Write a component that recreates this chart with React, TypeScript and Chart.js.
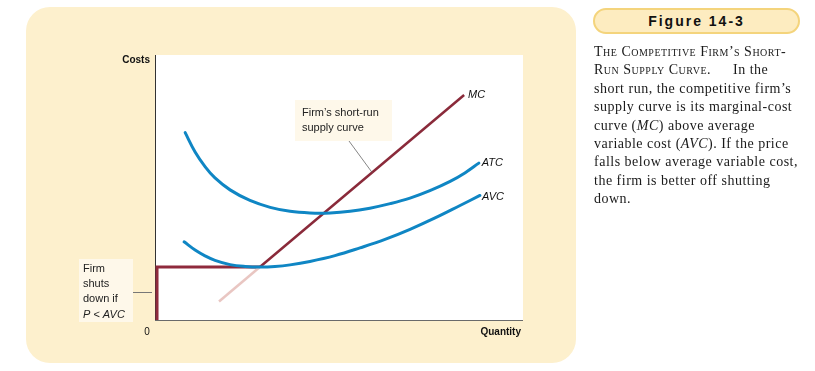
import React, { useEffect, useRef } from "react";
import { Chart, registerables } from "chart.js";

Chart.register(...registerables);

// ---- data (x: quantity 0..100, y: costs 0..100) ----
const atcX = [8.2, 10.9, 13.6, 16.3, 20.4, 25.8, 31.3, 36.7, 42.1, 47.6, 53.0, 58.4, 63.9, 69.3, 74.7, 80.2, 84.2, 88.0];
const atcY = [70.7, 63.4, 57.9, 53.6, 49.1, 45.1, 42.5, 41.0, 40.4, 40.4, 41.0, 42.2, 43.9, 46.0, 48.8, 52.3, 55.5, 59.2];
const avcX = [7.9, 10.9, 13.6, 16.3, 20.4, 24.5, 28.5, 32.6, 36.7, 42.1, 48.9, 55.7, 62.5, 69.3, 76.1, 82.9, 88.3];
const avcY = [29.5, 26.4, 24.2, 22.5, 20.9, 20.2, 20.0, 20.2, 20.8, 22.1, 24.3, 27.2, 30.4, 34.2, 38.5, 43.2, 47.0];
const mcLowX = [17.4, 28.5];
const mcLowY = [7.0, 20.0];
const mcX = [28.5, 84.0];
const mcY = [20.0, 84.9];
const shutX = [0.55, 0.55, 28.5];
const shutY = [0, 20.0, 20.0];
const axisMin = 0;
const axisMax = 100;

const pts = (xs: number[], ys: number[]) => xs.map((x, i) => ({ x, y: ys[i] }));

const SANS = "'Liberation Sans', Arial, sans-serif";

const overlay = {
  id: "overlay",
  beforeDatasetsDraw(chart: any) {
    const { ctx, chartArea: a } = chart;
    ctx.save();
    ctx.fillStyle = "#ffffff";
    ctx.fillRect(a.left, a.top, a.right - a.left, a.bottom - a.top);
    ctx.lineWidth = 1;
    ctx.strokeStyle = "#333";
    ctx.beginPath();
    ctx.moveTo(a.left + 0.5, a.top);
    ctx.lineTo(a.left + 0.5, a.bottom);
    ctx.stroke();
    ctx.strokeStyle = "#6a6a6a";
    ctx.beginPath();
    ctx.moveTo(a.left, a.bottom + 0.5);
    ctx.lineTo(a.right, a.bottom + 0.5);
    ctx.stroke();
    ctx.restore();
  },
  afterDatasetsDraw(chart: any) {
    const { ctx, chartArea: a, scales } = chart;
    const xs = scales.x;
    const ys = scales.y;
    ctx.save();
    ctx.fillStyle = "#111";
    ctx.textBaseline = "middle";
    ctx.font = `bold 10px ${SANS}`;
    ctx.textAlign = "right";
    ctx.fillText("Costs", a.left - 5, a.top + 5);
    ctx.fillText("Quantity", a.right - 2, a.bottom + 12);
    ctx.font = `10px ${SANS}`;
    ctx.textAlign = "center";
    ctx.fillText("0", a.left - 8, a.bottom + 12);

    ctx.font = `italic 11px ${SANS}`;
    ctx.textAlign = "left";
    ctx.fillStyle = "#111";
    ctx.fillText("MC", xs.getPixelForValue(mcX[1]) + 4, ys.getPixelForValue(mcY[1]));
    ctx.fillText("ATC", xs.getPixelForValue(atcX[atcX.length - 1]) + 3, ys.getPixelForValue(atcY[atcY.length - 1]));
    ctx.fillText("AVC", xs.getPixelForValue(avcX[avcX.length - 1]) + 2, ys.getPixelForValue(avcY[avcY.length - 1]) + 1);

    const bx = 295, by = 100, bw = 97, bh = 41;
    ctx.fillStyle = "#fef8ea";
    ctx.fillRect(bx, by, bw, bh);
    ctx.fillStyle = "#222";
    ctx.font = `11px ${SANS}`;
    ctx.fillText("Firm\u2019s short-run", bx + 7, by + 13);
    ctx.fillText("supply curve", bx + 7, by + 28);
    const tx = 59;
    const ty = mcY[0] + ((tx - mcX[0]) * (mcY[1] - mcY[0])) / (mcX[1] - mcX[0]);
    ctx.strokeStyle = "#666";
    ctx.lineWidth = 0.8;
    ctx.beginPath();
    ctx.moveTo(bx + 54, by + bh);
    ctx.lineTo(xs.getPixelForValue(tx), ys.getPixelForValue(ty));
    ctx.stroke();

    const sx = 79, sy = 259, sw = 54, sh = 63;
    ctx.fillStyle = "#fef8ea";
    ctx.fillRect(sx, sy, sw, sh);
    ctx.fillStyle = "#222";
    ctx.font = `11px ${SANS}`;
    ctx.fillText("Firm", sx + 4, sy + 10);
    ctx.fillText("shuts", sx + 4, sy + 25);
    ctx.fillText("down if", sx + 4, sy + 40);
    ctx.font = `italic 11px ${SANS}`;
    ctx.fillText("P", sx + 4, sy + 56);
    const pw = ctx.measureText("P").width;
    ctx.font = `11px ${SANS}`;
    ctx.fillText(" < ", sx + 4 + pw, sy + 56);
    const lw = ctx.measureText(" < ").width;
    ctx.font = `italic 11px ${SANS}`;
    ctx.fillText("AVC", sx + 4 + pw + lw, sy + 56);
    ctx.strokeStyle = "#777";
    ctx.lineWidth = 1;
    ctx.beginPath();
    ctx.moveTo(sx + sw, 292.5);
    ctx.lineTo(a.left - 3, 292.5);
    ctx.stroke();
    ctx.restore();
  },
};

export default function App() {
  const ref = useRef<HTMLCanvasElement | null>(null);
  useEffect(() => {
    if (!ref.current) return;
    const blue = "#0f86c4";
    const chart = new Chart(ref.current, {
      type: "scatter",
      data: {
        datasets: [
          { data: pts(atcX, atcY), borderColor: blue, borderWidth: 3, showLine: true, tension: 0.4, pointRadius: 0, borderCapStyle: "round" } as any,
          { data: pts(avcX, avcY), borderColor: blue, borderWidth: 3, showLine: true, tension: 0.4, pointRadius: 0, borderCapStyle: "round" } as any,
          { data: pts(mcLowX, mcLowY), borderColor: "#e9c6c2", borderWidth: 2.5, showLine: true, pointRadius: 0 } as any,
          { data: pts(shutX, shutY), borderColor: "#8f2a3c", borderWidth: 3, showLine: true, pointRadius: 0, borderJoinStyle: "miter" } as any,
          { data: pts(mcX, mcY), borderColor: "#8a2a3a", borderWidth: 2.5, showLine: true, pointRadius: 0 } as any,
        ],
      },
      options: {
        animation: false,
        responsive: false,
        maintainAspectRatio: false,
        layout: { padding: { left: 155, right: 292, top: 55, bottom: 51 } },
        plugins: { legend: { display: false }, tooltip: { enabled: false } },
        scales: {
          x: { type: "linear", min: axisMin, max: axisMax, display: false },
          y: { type: "linear", min: axisMin, max: axisMax, display: false },
        },
        events: [],
      },
      plugins: [overlay],
    });
    return () => chart.destroy();
  }, []);

  const serif = "'Liberation Serif', 'Times New Roman', serif";
  return (
    <div style={{ position: "fixed", left: 0, top: 0, width: 815, height: 371, background: "#ffffff", overflow: "hidden" }}>
      <div style={{ position: "absolute", left: 26, top: 7, width: 550, height: 356, borderRadius: 24, background: "#fdf0cd" }} />
      <canvas ref={ref} width={815} height={371} style={{ position: "absolute", left: 0, top: 0, width: 815, height: 371 }} />
      <div
        style={{
          position: "absolute", left: 593, top: 8, width: 203, height: 22, borderRadius: 13,
          border: "2px solid #f4d47c", background: "#fdecc0", display: "flex", alignItems: "center",
          justifyContent: "center", fontFamily: SANS, fontWeight: "bold", fontSize: 14, letterSpacing: 2, color: "#111",
        }}
      >
        Figure 14-3
      </div>
      <div style={{ position: "absolute", left: 594, top: 43, fontFamily: serif, fontSize: 14, letterSpacing: 0.5, lineHeight: "18.4px", color: "#1a1a1a", whiteSpace: "nowrap" }}>
        <span style={{ fontVariant: "small-caps" }}>The Competitive Firm’s Short-</span><br />
        <span style={{ fontVariant: "small-caps", display: "inline-block", width: 139 }}>Run Supply Curve.</span>In the<br />
        short run, the competitive firm’s<br />
        supply curve is its marginal-cost<br />
        curve (<i>MC</i>) above average<br />
        variable cost (<i>AVC</i>). If the price<br />
        falls below average variable cost,<br />
        the firm is better off shutting<br />
        down.
      </div>
    </div>
  );
}
